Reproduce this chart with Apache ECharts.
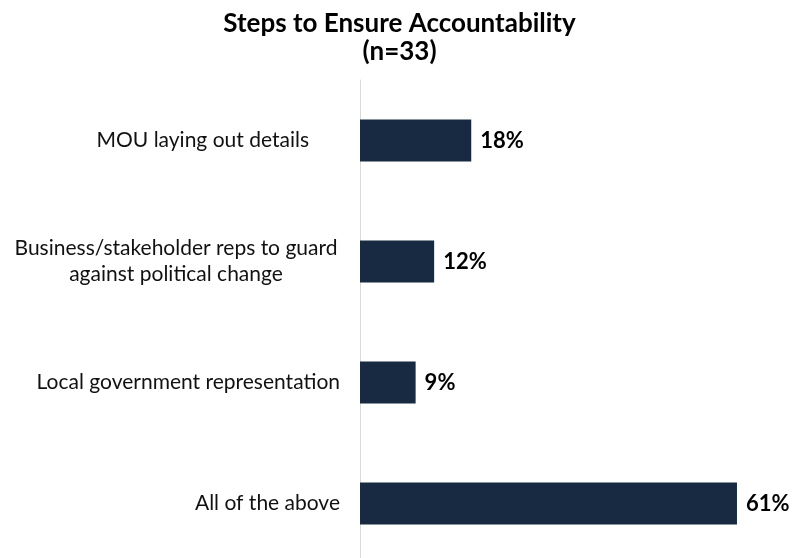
<!DOCTYPE html>
<html>
<head>
<meta charset="utf-8">
<style>
  html, body { margin: 0; padding: 0; background: #ffffff; overflow: hidden; }
  #chart { width: 799px; height: 570px; }
</style>
<script src="https://cdn.jsdelivr.net/npm/echarts@6/dist/echarts.min.js"></script>
</head>
<body>
<div id="chart"></div>
<script>
// Survey responses, top to bottom as shown
const categories = [
  'MOU laying out details',
  'Business/stakeholder reps to guard\nagainst political change',
  'Local government representation',
  'All of the above'
];
const shares = [18, 12, 9, 61];

const chart = echarts.init(document.getElementById('chart'));

// rich-text style key for each category label
const labelStyleKeys = ['mou', 'wrap', 'plain', 'plain'];

const labelFont = { fontFamily: 'Lato', fontSize: 21, color: '#111111', lineHeight: 26 };

chart.setOption({
  backgroundColor: '#ffffff',
  animation: false,
  title: {
    text: 'Steps to Ensure Accountability\n(n=33)',
    left: 'center',
    top: 5,
    textStyle: {
      fontFamily: 'Lato',
      fontWeight: 'bold',
      fontSize: 26,
      lineHeight: 28,
      color: '#000000'
    }
  },
  grid: {
    left: 360,
    top: 80,
    width: 432.6,
    height: 484,
    containLabel: false
  },
  xAxis: {
    type: 'value',
    min: 0,
    max: 70,
    show: false
  },
  yAxis: {
    type: 'category',
    inverse: true,
    data: categories,
    axisLine: { show: true, lineStyle: { color: '#d9d9d9', width: 1 } },
    axisTick: { show: false },
    splitLine: { show: false },
    axisLabel: {
      margin: 20,
      fontFamily: 'Lato',
      fontSize: 21,
      color: '#111111',
      formatter: function (value, idx) {
        const key = labelStyleKeys[idx];
        return value.split('\n').map(function (line) {
          return '{' + key + '|' + line + '}';
        }).join('\n');
      },
      rich: {
        plain: Object.assign({}, labelFont),
        mou: Object.assign({ padding: [0, 31, 0, 0] }, labelFont),
        wrap: Object.assign({ width: 328, align: 'center' }, labelFont)
      }
    }
  },
  series: [{
    type: 'bar',
    data: shares,
    barWidth: 42,
    itemStyle: { color: '#172a41' },
    label: {
      show: true,
      position: 'right',
      distance: 9,
      formatter: '{c}%',
      fontFamily: 'Lato',
      fontWeight: 'bold',
      fontSize: 22,
      color: '#000000'
    }
  }]
});
</script>
</body>
</html>
